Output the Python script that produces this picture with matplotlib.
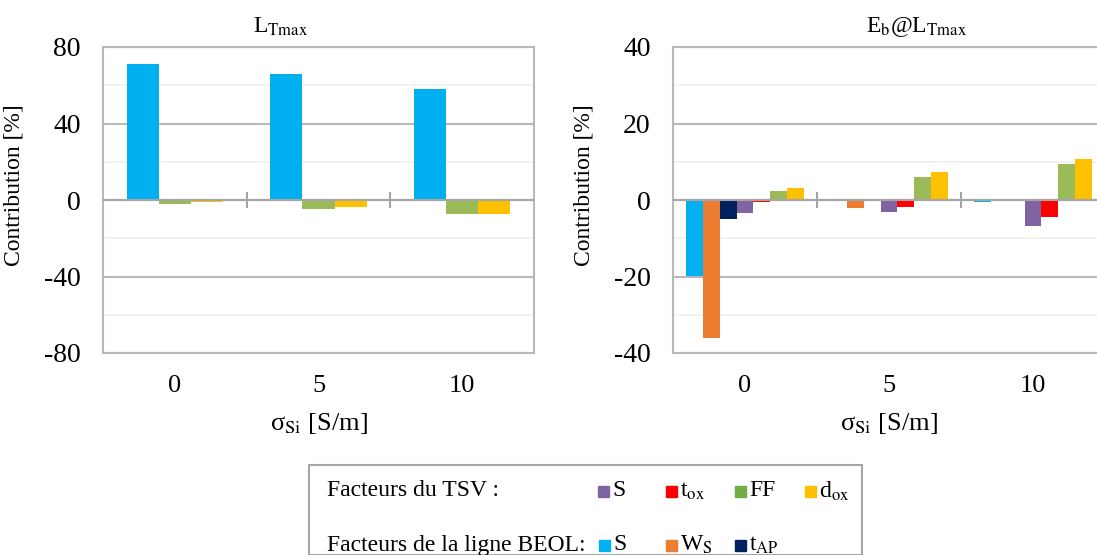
import numpy as np
import matplotlib
matplotlib.use('Agg')
import matplotlib.pyplot as plt
from matplotlib.patches import Rectangle

plt.rcParams['font.family'] = ['Liberation Serif', 'DejaVu Serif']
plt.rcParams['mathtext.fontset'] = 'stix'
plt.rcParams['axes.unicode_minus'] = False

# --- data ---
categories = ['0', '5', '10']

# left panel: L_Tmax
left_beol_s = [71.0, 66.0, 58.2]
left_ff = [-2.3, -4.5, -7.2]
left_dox = [-0.9, -3.8, -7.5]

# right panel: Eb@L_Tmax
right_beol_s = [-19.8, -0.3, -0.4]
right_ws = [-36.0, -2.2, 0.0]
right_tap = [-4.9, 0.0, 0.0]
right_tsv_s = [-3.5, -3.1, -6.8]
right_tox = [-0.4, -1.7, -4.5]
right_ff = [2.4, 5.9, 9.3]
right_dox = [3.1, 7.3, 10.7]

C_BLUE = '#00B0F0'
C_ORANGE = '#ED7D31'
C_NAVY = '#002060'
C_PURPLE = '#8064A2'
C_RED = '#FF0000'
C_GREEN = '#9BBB59'
C_YELLOW = '#FFC000'

W, H = 1097, 555
fig = plt.figure(figsize=(W / 100, H / 100), dpi=100)


def px_axes(x0, y0, x1, y1):
    # pixel box (top-left origin) -> figure axes
    return fig.add_axes([x0 / W, 1 - y1 / H, (x1 - x0) / W, (y1 - y0) / H])


def style_axes(ax, ylim, major, minor, title, title_x):
    ax.set_xlim(-0.5, 2.5)
    ax.set_ylim(*ylim)
    ax.set_yticks(np.arange(ylim[0], ylim[1] + 1, major))
    ax.set_yticks(np.arange(ylim[0], ylim[1] + 1, minor), minor=True)
    ax.grid(True, which='minor', axis='y', color='#EFEFEF', lw=1.2, zorder=0)
    ax.grid(True, which='major', axis='y', color='#B8B8B8', lw=1.5, zorder=0)
    ax.axhline(0, color='#A6A6A6', lw=1.5, zorder=3)
    for s in ax.spines.values():
        s.set_color('#B8B8B8')
        s.set_linewidth(1.5)
    ax.tick_params(axis='y', which='both', length=0, labelsize=20, pad=16)
    ax.set_xticks(range(len(categories)))
    ax.set_xticklabels(categories)
    ax.tick_params(axis='x', length=0, labelsize=19, pad=16)
    # category separator tick marks on the zero axis
    ax.vlines([0.5, 1.5], 0.474, 0.526, transform=ax.get_xaxis_transform(),
              color='#A6A6A6', lw=1.5, zorder=3)
    ax.set_ylabel('Contribution [%]', fontsize=17)
    ax.yaxis.set_label_coords(-0.181, 0.547)
    ax.set_xlabel('\u03c3$_{\\mathrm{Si}}$ [S/m]', fontsize=19)
    ax.xaxis.set_label_coords(0.5, -0.23)
    ax.xaxis.label.set_verticalalignment('center')
    fig.text(title_x / W, 1 - 27 / H, title, ha='center', va='center', fontsize=17)


x = np.arange(len(categories))

# left panel
ax1 = px_axes(103, 47, 534, 353)
w1 = 0.223
for i, (vals, col) in enumerate([(left_beol_s, C_BLUE), (left_ff, C_GREEN),
                                  (left_dox, C_YELLOW)]):
    ax1.bar(x + (i - 1) * w1, vals, w1, color=col, zorder=2)
style_axes(ax1, (-80, 80), 40, 20, r'L$_{\mathrm{Tmax}}$', 281)

# right panel (extends past the right edge, as in the reference)
ax2 = px_axes(673, 47, 1105, 353)
w2 = 0.117
right_series = [(right_beol_s, C_BLUE), (right_ws, C_ORANGE), (right_tap, C_NAVY),
                (right_tsv_s, C_PURPLE), (right_tox, C_RED), (right_ff, C_GREEN),
                (right_dox, C_YELLOW)]
for i, (vals, col) in enumerate(right_series):
    ax2.bar(x + (i - 3) * w2, vals, w2, color=col, zorder=2)
style_axes(ax2, (-40, 40), 20, 10, r'E$_{\mathrm{b}}$@L$_{\mathrm{Tmax}}$', 916)

# legend box
fig.patches.append(Rectangle((309 / W, 0), (862 - 309) / W, 1 - 465 / H,
                             transform=fig.transFigure, fill=False,
                             edgecolor='#A6A6A6', lw=1.5))

rows = [
    ('Facteurs du TSV :', 491,
     [('S', C_PURPLE, 598), (r't$_{\mathrm{ox}}$', C_RED, 666),
      ('FF', '#70AD47', 735), (r'd$_{\mathrm{ox}}$', C_YELLOW, 805)]),
    ('Facteurs de la ligne BEOL:', 545,
     [('S', C_BLUE, 599), (r'W$_{\mathrm{S}}$', C_ORANGE, 666),
      (r't$_{\mathrm{AP}}$', C_NAVY, 735)]),
]
sw = 11
for header, yc, entries in rows:
    fig.text(327 / W, 1 - yc / H, header, ha='left', va='center', fontsize=17)
    for lab, col, xs in entries:
        fig.patches.append(Rectangle((xs / W, 1 - (yc + sw / 2) / H), sw / W, sw / H,
                                     transform=fig.transFigure, color=col))
        fig.text((xs + sw + 3) / W, 1 - yc / H, lab, ha='left', va='center',
                 fontsize=17)

fig.savefig('out.png', dpi=100)
